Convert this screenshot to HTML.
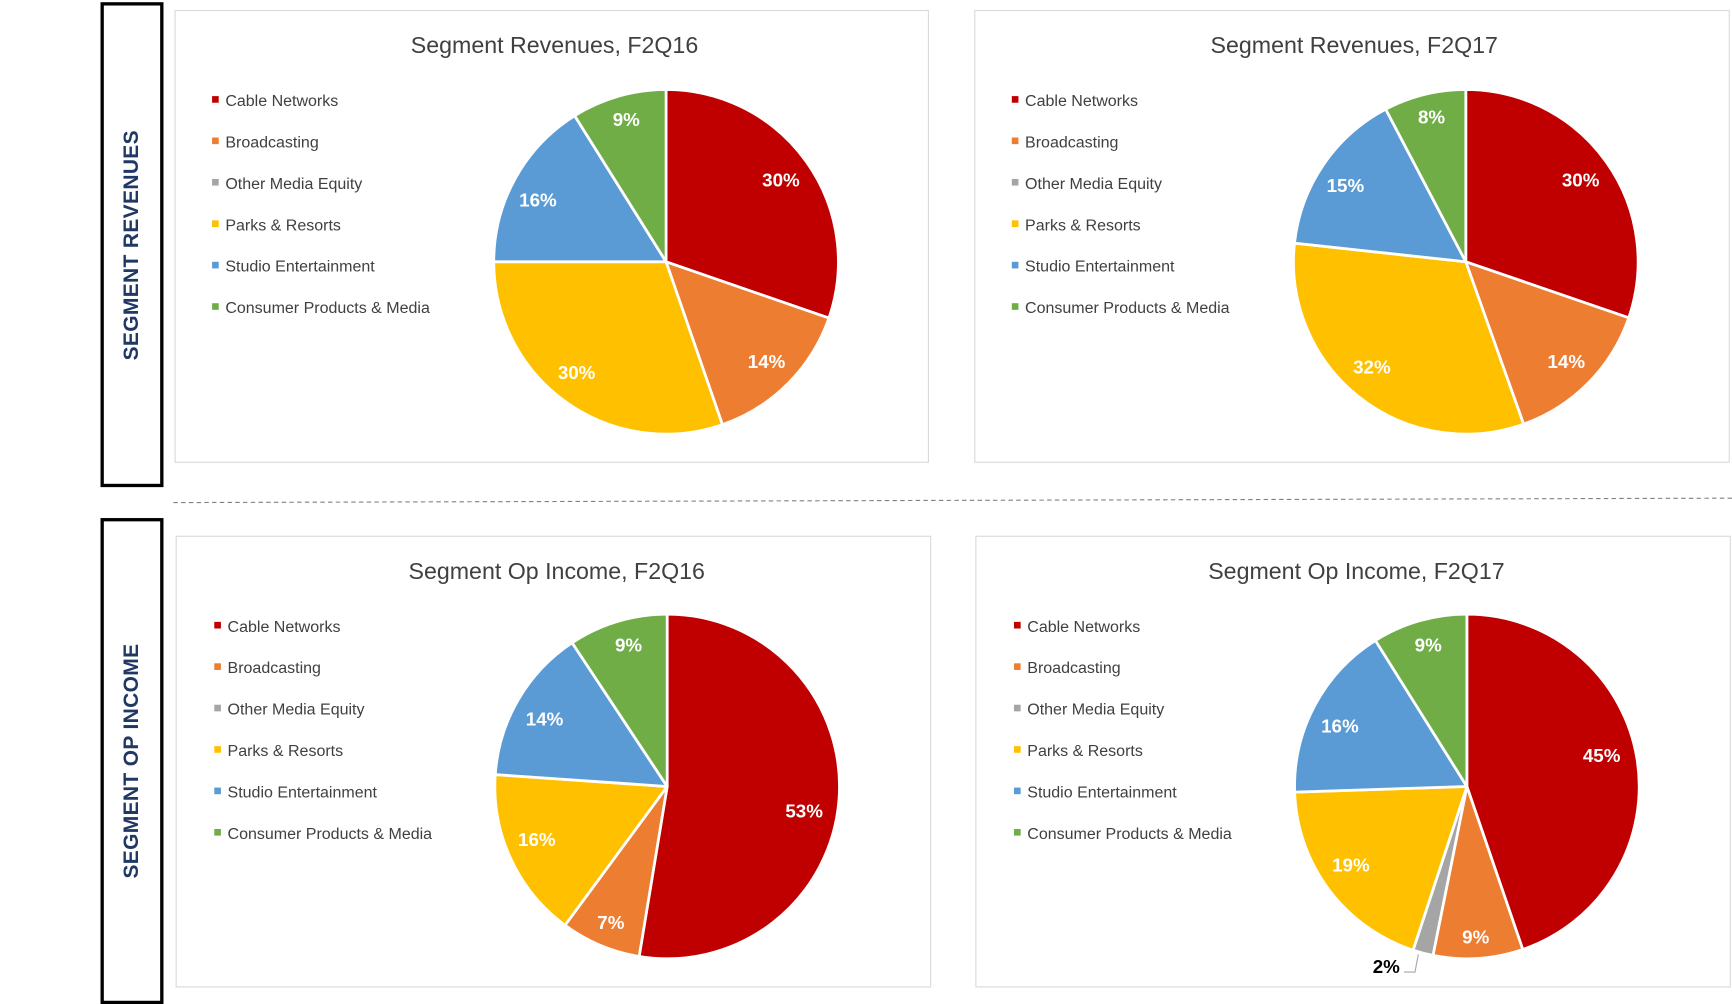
<!DOCTYPE html>
<html><head><meta charset="utf-8">
<style>
html,body{margin:0;padding:0;background:#fff;width:1732px;height:1004px;overflow:hidden}
#w{position:absolute;left:0;top:0;width:1568px;height:909px;transform:scale(1.10459);transform-origin:0 0;font-family:"Liberation Sans",sans-serif}
.vb{position:absolute;border:3px solid #000;box-sizing:border-box}
.vt{position:absolute;left:50%;top:50%;transform:translate(-50%,-50%) rotate(-90deg);white-space:nowrap;color:#1f3864;font-weight:bold;font-size:19px;letter-spacing:0.3px}
.p{position:absolute;border:1px solid #d9d9d9;box-sizing:border-box}
</style></head><body>
<div id="w">
<div class="vb" style="left:91px;top:2px;width:57px;height:439px"><div class="vt">SEGMENT REVENUES</div></div>
<div class="vb" style="left:91px;top:469px;width:57px;height:440px"><div class="vt">SEGMENT OP INCOME</div></div>
<div class="p" style="left:158px;top:9px;width:683px;height:410px"></div>
<div class="p" style="left:882px;top:9px;width:684px;height:410px"></div>
<div class="p" style="left:159px;top:485px;width:684px;height:409px"></div>
<div class="p" style="left:883px;top:485px;width:684px;height:409px"></div>
<svg id="s" width="1568" height="909" style="position:absolute;left:0;top:0">
<line x1="157" y1="455" x2="1568" y2="451" stroke="#808080" stroke-width="1" stroke-dasharray="4,3"/>
</svg>
</div>
<script>
var s=document.getElementById('s'),NS='http://www.w3.org/2000/svg';
var cols=['#c00000','#ed7d31','#a5a5a5','#ffc000','#5b9bd5','#70ad47'];
var names=['Cable Networks','Broadcasting','Other Media Equity','Parks & Resorts','Studio Entertainment','Consumer Products & Media'];
function el(t,a,txt){var e=document.createElementNS(NS,t);for(var k in a)e.setAttribute(k,a[k]);if(txt)e.textContent=txt;s.appendChild(e);return e;}
function chart(title,tx,ty,lx,ly,cx,cy,vals,labels){
 el('text',{x:tx,y:ty,'text-anchor':'middle','font-size':21,fill:'#404040','font-family':'Liberation Sans, sans-serif'},title);
 for(var i=0;i<6;i++){var y=ly+i*37.5;
  el('rect',{x:lx-4,y:y-4,width:6,height:6,fill:cols[i]});
  el('text',{x:lx+8,y:y+5,'font-size':14.5,fill:'#404040','font-family':'Liberation Sans, sans-serif'},names[i]);}
 var r=156,tot=vals.reduce(function(a,b){return a+b},0),a=0;
 for(var i=0;i<6;i++){if(!vals[i])continue;var a1=a+vals[i]/tot*2*Math.PI;
  var x0=cx+r*Math.sin(a),y0=cy-r*Math.cos(a),x1=cx+r*Math.sin(a1),y1=cy-r*Math.cos(a1);
  el('path',{d:'M'+cx+','+cy+'L'+x0+','+y0+'A'+r+','+r+' 0 '+((a1-a)>Math.PI?1:0)+' 1 '+x1+','+y1+'Z',fill:cols[i],stroke:'#fff','stroke-width':2.5,'stroke-linejoin':'round'});
  a=a1;}
 labels.forEach(function(l){el('text',{x:l[1],y:l[2]+6,'text-anchor':'middle','font-size':17,'font-weight':'bold',fill:l[3]||'#fff','font-family':'Liberation Sans, sans-serif'},l[0]);});
}
chart('Segment Revenues, F2Q16',502,48,196,91,603,237,[30.3,14.4,0,30.3,16.1,8.9],[['30%',707,163],['14%',694,327],['30%',522,337],['16%',487,181],['9%',567,108]]);
chart('Segment Revenues, F2Q17',1226,48,920,91,1327,237,[30.3,14.3,0,32.2,15.6,7.7],[['30%',1431,163],['14%',1418,327],['32%',1242,332],['15%',1218,168],['8%',1296,106]]);
chart('Segment Op Income, F2Q16',504,524,198,567,604,712,[52.6,7.5,0,16.0,14.6,9.3],[['53%',728,734],['7%',553,835],['16%',486,760],['14%',493,651],['9%',569,584]]);
chart('Segment Op Income, F2Q17',1228,524,922,567,1328,712,[44.7,8.4,1.9,19.4,16.6,8.9],[['45%',1450,684],['9%',1336,848],['2%',1255,875,'#000'],['19%',1223,783],['16%',1213,657],['9%',1293,584]]);
el('polyline',{points:'1284,864 1281,880 1271,880',fill:'none',stroke:'#a6a6a6','stroke-width':1});
</script>
</body></html>
